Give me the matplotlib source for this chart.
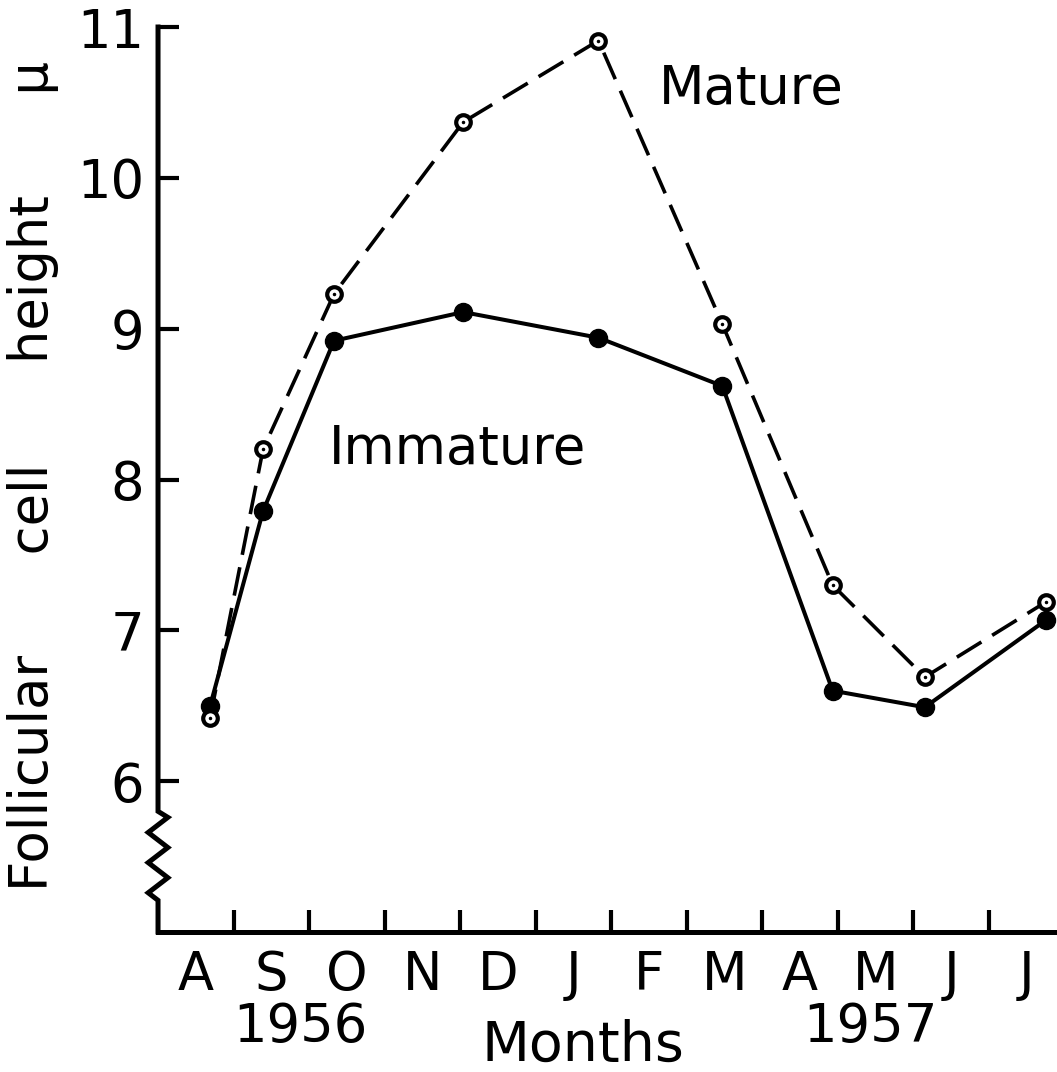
import matplotlib
matplotlib.use('Agg')
import matplotlib.pyplot as plt
import numpy as np

# sampling dates, in months from the start of August 1956
sample_month = [0.69, 1.39, 2.33, 4.04, 5.83, 7.47, 8.93, 10.15, 11.76]
immature = [6.5, 7.79, 8.92, 9.11, 8.94, 8.62, 6.6, 6.49, 7.07]
mature = [6.42, 8.2, 9.23, 10.37, 10.91, 9.03, 7.3, 6.69, 7.19]

month_labels = ['A', 'S', 'O', 'N', 'D', 'J', 'F', 'M', 'A', 'M', 'J', 'J']
y_ticks = [6, 7, 8, 9, 10, 11]

FS = 38

fig = plt.figure(figsize=(10.57, 10.72), dpi=100)
ax = fig.add_axes([0.1495, 0.1306, 0.8505, 0.8442])

# Mature: dashed line, open circles
ax.plot(sample_month, mature, color='black', linewidth=2.6,
        dashes=(8, 3.5), zorder=2)
# Immature: solid line, filled circles
ax.plot(sample_month, immature, color='black', linewidth=2.9,
        marker='o', markersize=13, markerfacecolor='black', zorder=3)
ax.plot(sample_month, mature, linestyle='none', marker='o',
        markersize=10.5, markeredgewidth=3, markeredgecolor='black',
        markerfacecolor='white', zorder=4)
ax.plot(sample_month, mature, linestyle='none', marker='o',
        markersize=1.5, color='black', zorder=5)

ax.set_xlim(0, 11.9)
ax.set_ylim(5, 11)

# Axes lines: bottom spine normal, left spine drawn with a break
for side in ['top', 'right', 'left']:
    ax.spines[side].set_visible(False)
ax.spines['bottom'].set_linewidth(3.6)

zig_x = [0, 0, 0.13, -0.13, 0.13, -0.13, 0.13, -0.13, 0, 0]
zig_y = [11, 5.8, 5.76, 5.66, 5.56, 5.46, 5.36, 5.26, 5.21, 5.0]
ax.plot(zig_x, zig_y, color='black', linewidth=3.6, clip_on=False,
        solid_joinstyle='miter', solid_capstyle='projecting', zorder=6)

ax.set_yticks(y_ticks)
ax.set_yticklabels([str(v) for v in y_ticks])
ax.tick_params(axis='y', direction='in', length=15, width=3,
               labelsize=FS, pad=10)

ax.set_xticks(np.arange(1, 12))
ax.set_xticklabels([])
ax.tick_params(axis='x', which='major', direction='in', length=16, width=3)
ax.set_xticks(np.arange(12) + 0.5, minor=True)
ax.set_xticklabels(month_labels, minor=True)
ax.tick_params(axis='x', which='minor', length=0, labelsize=FS, pad=12)

ax.text(1.88, 4.37, '1956', fontsize=FS, ha='center', va='center',
        clip_on=False)
ax.text(9.43, 4.37, '1957', fontsize=FS, ha='center', va='center',
        clip_on=False)

ax.set_xlabel('Months', fontsize=40, va='center')
ax.xaxis.set_label_coords(0.473, -0.126)
ax.set_ylabel('Follicular      cell      height      \u03bc', fontsize=FS,
              va='center')
ax.yaxis.set_label_coords(-0.139, 0.504)

ax.text(7.85, 10.59, 'Mature', fontsize=FS, ha='center', va='center')
ax.text(3.96, 8.2, 'Immature', fontsize=FS, ha='center', va='center')

fig.savefig('out.png', dpi=100)
